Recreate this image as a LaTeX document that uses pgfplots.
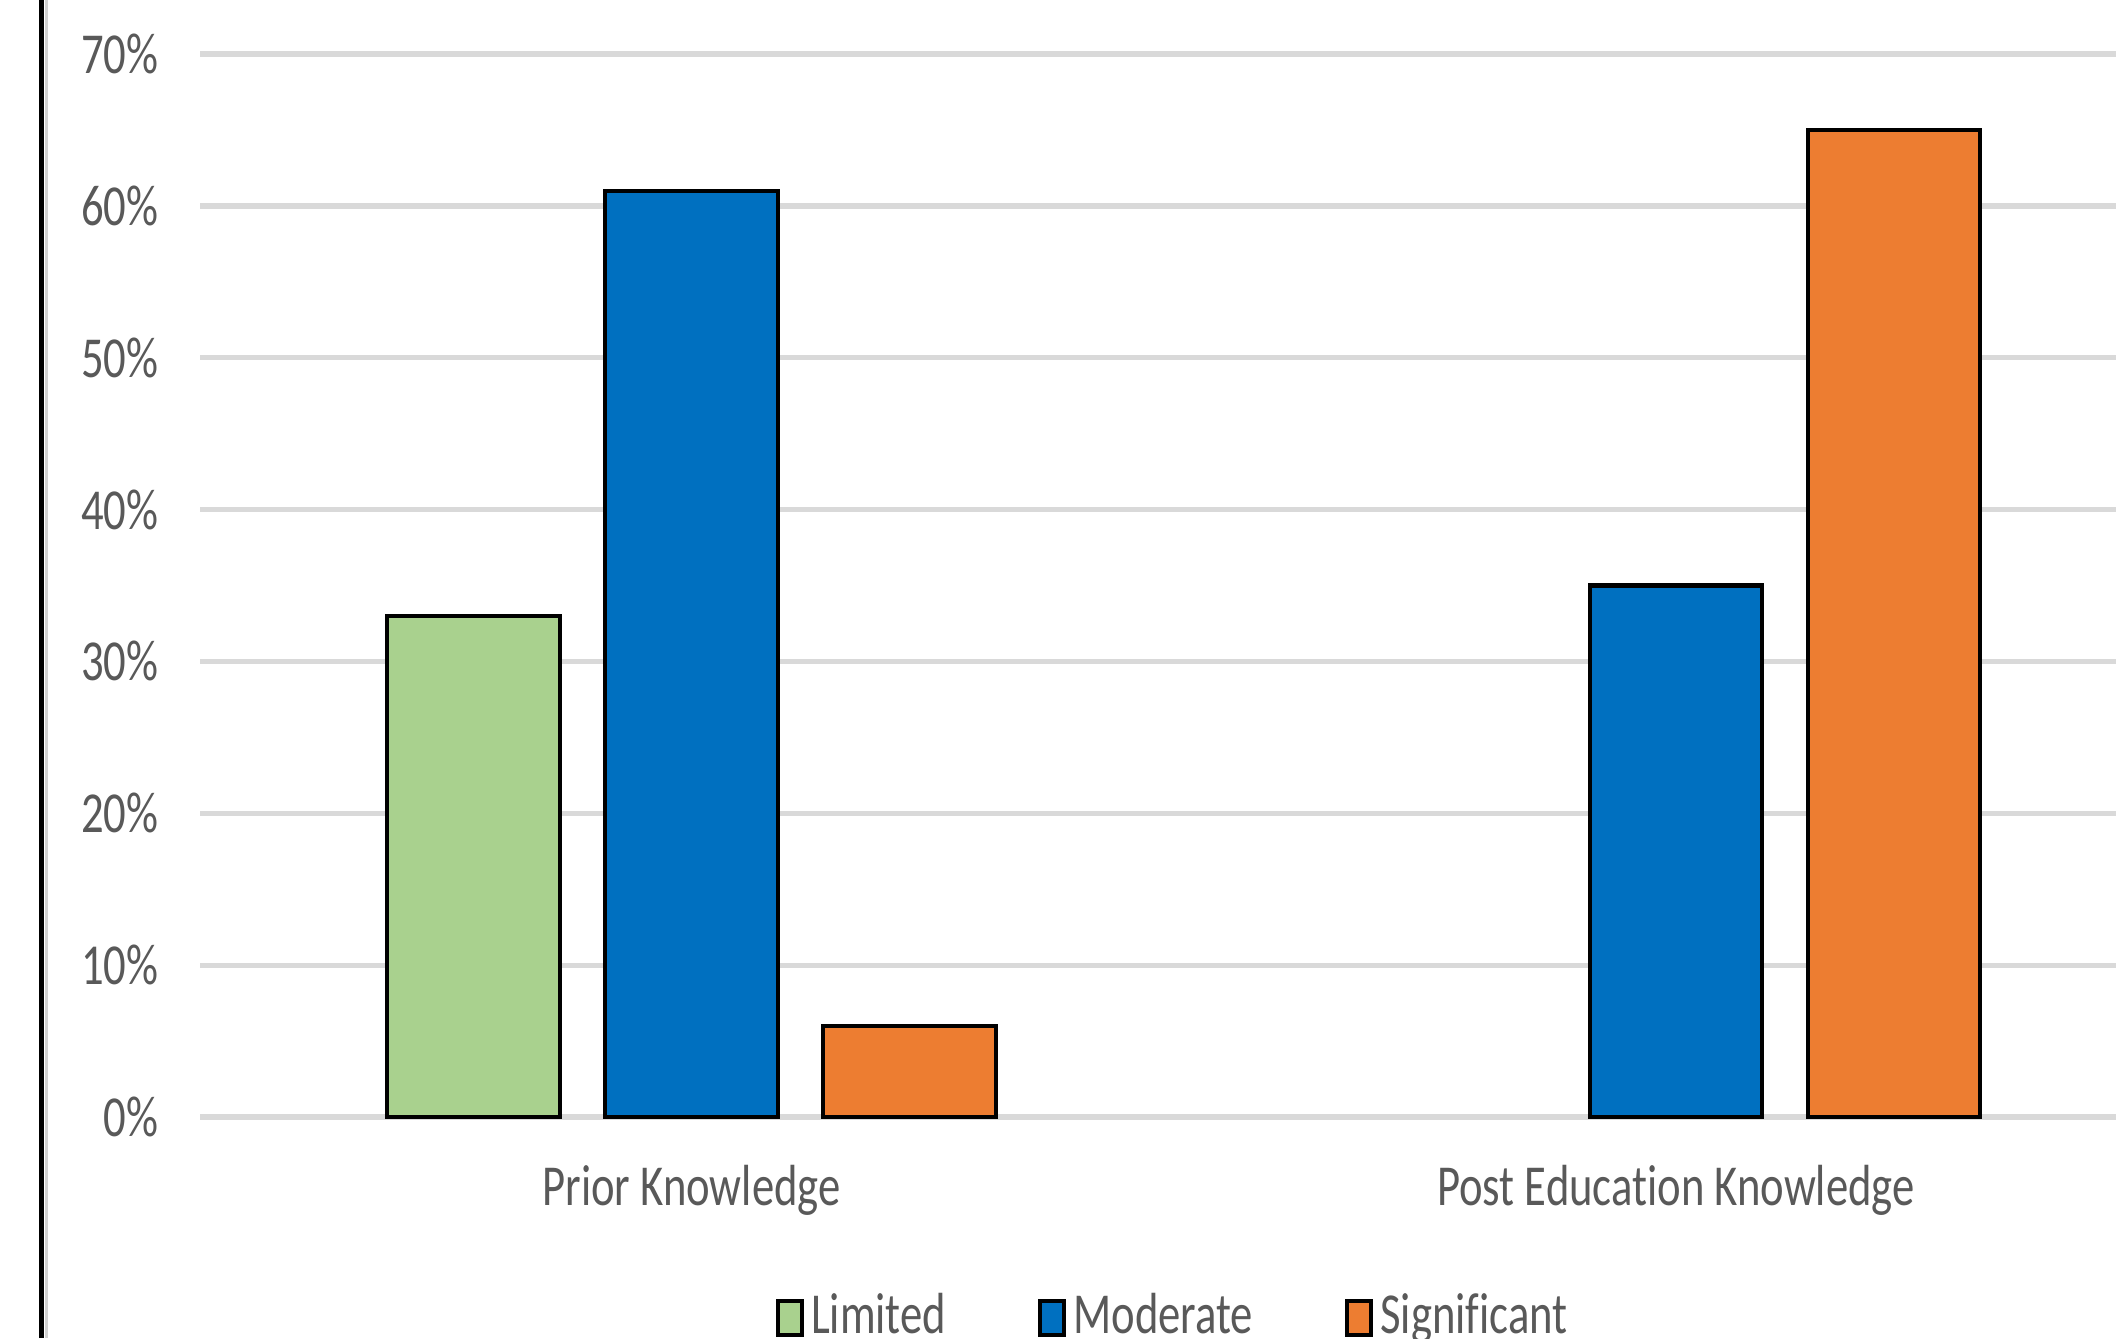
\documentclass[border=0pt]{standalone}
\usepackage{pgfplots}
\pgfplotsset{compat=1.18}
\usepackage{fontspec}
\setmainfont{Carlito}[FakeStretch=0.77, Ligatures={NoCommon}]
\definecolor{cgreen}{HTML}{A9D18E}
\definecolor{cblue}{HTML}{0070C0}
\definecolor{corange}{HTML}{ED7D31}
\definecolor{ctext}{HTML}{595959}
\definecolor{cgrid}{HTML}{D9D9D9}
\pgfplotsset{
  mylegend/.style={legend image code/.code={\draw[##1, line width=1.2pt] (0cm,-0.19cm) rectangle (0.24cm,0.15cm);}}
}
\begin{document}
\begin{tikzpicture}
\useasboundingbox (0,0) rectangle (21.16,13.38);
\clip (0,0) rectangle (21.16,13.38);
\fill[white] (0,0) rectangle (21.16,13.38);
\begin{axis}[
  at={(2.00cm,2.21cm)}, anchor=south west,
  scale only axis, width=19.16cm, height=10.63cm,
  xmin=-0.4994, xmax=1.447, ymin=0, ymax=70,
  ytick={0,10,...,70},
  yticklabel={\pgfmathprintnumber{\tick}\%},
  /pgf/number format/assume math mode=true,
  xtick={0,1}, xticklabels={Prior Knowledge, Post Education Knowledge},
  major tick length=0pt,
  axis line style={draw=none},
  ymajorgrids, grid style={cgrid, line width=1.5pt},
  tick label style={font=\fontsize{16.5}{19}\selectfont, text=ctext},
  yticklabel style={anchor=east, inner sep=0pt, xshift=-0.41cm},
  xticklabel style={anchor=base, inner sep=0pt, yshift=-0.88cm},
  clip=false,
  legend columns=3,
  legend style={draw=none, fill=none, at={(0.509,-0.187)}, anchor=center,
    font=\fontsize{16.5}{19}\selectfont, text=ctext,
    /tikz/every even column/.append style={column sep=0.85cm},
    /tikz/every odd column/.append style={column sep=0cm}},
]
\addplot[ybar, bar width=1.727cm, bar shift=-2.18cm, fill=cgreen, draw=black, line width=1.2pt, mylegend]
  coordinates {(0,33)};
\addlegendentry{Limited}
\addplot[ybar, bar width=1.727cm, bar shift=0cm, fill=cblue, draw=black, line width=1.2pt, mylegend]
  coordinates {(0,61) (1,35)};
\addlegendentry{Moderate}
\addplot[ybar, bar width=1.727cm, bar shift=2.18cm, fill=corange, draw=black, line width=1.2pt, mylegend]
  coordinates {(0,6) (1,65)};
\addlegendentry{Significant}
\end{axis}
\draw[black, line width=1.7pt] (0.415,0) -- (0.415,13.38);
\draw[black!18, line width=1pt] (0.463,0) -- (0.463,13.38);
\end{tikzpicture}
\end{document}
